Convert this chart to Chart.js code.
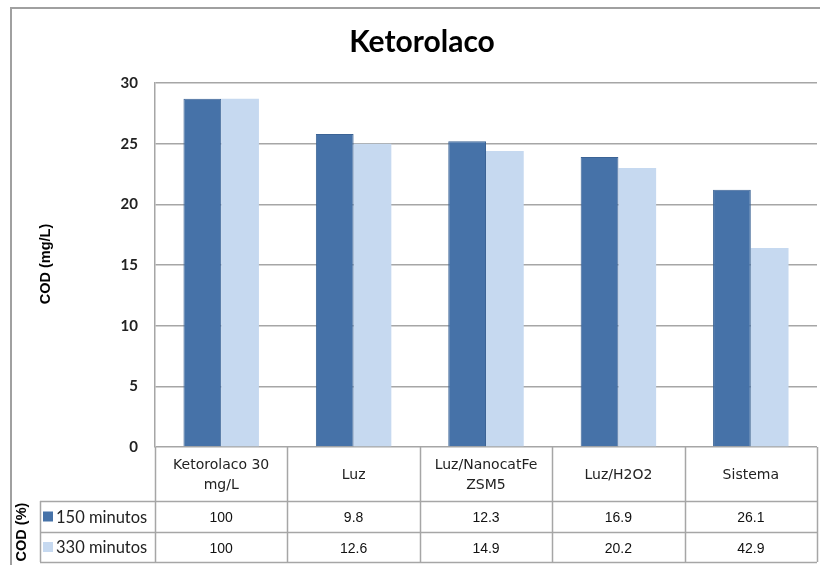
<!DOCTYPE html>
<html>
<head>
<meta charset="utf-8">
<script src="https://cdn.jsdelivr.net/npm/chart.js@4.4.1/dist/chart.umd.min.js"></script>
<style>
  html, body { margin: 0; padding: 0; background: #fff; }
  #wrap { width: 820px; height: 565px; position: relative; }
</style>
</head>
<body>
<div id="wrap"><canvas id="cod-chart"></canvas></div>
<script>
// categories and series (COD in mg/L)
const categories = [['Ketorolaco 30', 'mg/L'], ['Luz'], ['Luz/NanocatFe', 'ZSM5'], ['Luz/H2O2'], ['Sistema']];
const series150 = [28.7, 25.8, 25.2, 23.9, 21.2];
const series330 = [28.7, 25.0, 24.4, 23.0, 16.4];
// COD removal (%) shown in the data table
const removal150 = ['100', '9.8', '12.3', '16.9', '26.1'];
const removal330 = ['100', '12.6', '14.9', '20.2', '42.9'];
const seriesNames = ['150 minutos', '330 minutos'];
const yTicks = [0, 5, 10, 15, 20, 25, 30];

const dark = '#4672a8';
const light = '#c6d9f0';
const lineGray = '#a6a6a6';

// draws the frame, title, axis titles and the data table under the bars
const tablePlugin = {
  id: 'dataTable',
  afterDraw(chart) {
    const ctx = chart.ctx;
    const area = chart.chartArea;
    const x = chart.scales.x;
    const n = categories.length;
    const catW = (area.right - area.left) / n;
    const headTop = area.bottom;
    const row1 = 501, row2 = 532, tableBottom = 562;
    const legendLeft = 40;

    ctx.save();
    // outer frame
    ctx.strokeStyle = '#a0a0a0';
    ctx.lineWidth = 2;
    ctx.beginPath();
    ctx.moveTo(11, 565);
    ctx.lineTo(11, 8);
    ctx.lineTo(820, 8);
    ctx.stroke();

    // title
    ctx.fillStyle = '#000';
    ctx.font = 'bold 30px Lato';
    ctx.textAlign = 'center';
    ctx.textBaseline = 'middle';
    ctx.fillText('Ketorolaco', 422, 42);

    // table grid
    ctx.strokeStyle = lineGray;
    ctx.lineWidth = 1.5;
    ctx.beginPath();
    for (let i = 0; i <= n; i++) {
      const lx = Math.round(area.left + i * catW) + 0.5;
      ctx.moveTo(lx, headTop);
      ctx.lineTo(lx, tableBottom);
    }
    [row1, row2, tableBottom].forEach(yy => {
      ctx.moveTo(legendLeft, yy + 0.5);
      ctx.lineTo(area.right, yy + 0.5);
    });
    ctx.moveTo(legendLeft + 0.5, row1);
    ctx.lineTo(legendLeft + 0.5, tableBottom);
    ctx.stroke();

    // category headers
    ctx.fillStyle = '#222';
    ctx.font = '14px "DejaVu Sans"';
    categories.forEach((lines, i) => {
      const cx = x.getPixelForValue(i);
      const cy = (headTop + row1) / 2 + 1;
      const lh = 20;
      lines.forEach((t, k) => {
        ctx.fillText(t, cx, cy + (k - (lines.length - 1) / 2) * lh);
      });
    });

    // table values
    ctx.font = '14px "Liberation Sans"';
    ctx.fillStyle = '#111';
    removal150.forEach((v, i) => ctx.fillText(v, x.getPixelForValue(i), (row1 + row2) / 2 + 2));
    removal330.forEach((v, i) => ctx.fillText(v, x.getPixelForValue(i), (row2 + tableBottom) / 2 + 2));

    // legend keys
    ctx.textAlign = 'left';
    ctx.font = '16.5px Lato';
    [[row1, row2, dark], [row2, tableBottom, light]].forEach(([a, b, col], k) => {
      const cy = (a + b) / 2;
      ctx.fillStyle = col;
      ctx.fillRect(43, cy - 5, 10, 10);
      ctx.fillStyle = '#222';
      ctx.fillText(seriesNames[k], 56, cy + 1);
    });

    // axis titles
    ctx.font = 'bold 14.5px "Liberation Sans"';
    ctx.fillStyle = '#000';
    ctx.textAlign = 'center';
    ctx.translate(46, 264);
    ctx.rotate(-Math.PI / 2);
    ctx.fillText('COD (mg/L)', 0, 0);
    ctx.rotate(Math.PI / 2);
    ctx.translate(-46, -264);
    ctx.translate(22, 532);
    ctx.rotate(-Math.PI / 2);
    ctx.fillText('COD (%)', 0, 0);
    ctx.restore();
  }
};

new Chart(document.getElementById('cod-chart').getContext('2d'), {
  type: 'bar',
  data: {
    labels: categories,
    datasets: [
      {
        label: seriesNames[0],
        data: series150,
        backgroundColor: dark,
        borderColor: '#3b6395',
        borderWidth: 1,
        categoryPercentage: 0.57,
        barPercentage: 1.0
      },
      {
        label: seriesNames[1],
        data: series330,
        backgroundColor: light,
        borderColor: light,
        borderWidth: 0,
        categoryPercentage: 0.57,
        barPercentage: 1.0
      }
    ]
  },
  options: {
    responsive: true,
    maintainAspectRatio: false,
    animation: false,
    layout: { padding: { top: 83, right: 3, bottom: 118, left: 0 } },
    plugins: {
      legend: { display: false },
      title: { display: false },
      tooltip: { enabled: false }
    },
    scales: {
      x: {
        ticks: { display: false },
        grid: { display: false },
        border: { display: false },
        afterFit: s => { s.height = 0; }
      },
      y: {
        min: 0,
        max: 30,
        afterBuildTicks: s => { s.ticks = yTicks.map(v => ({ value: v })); },
        afterFit: s => { s.width = 155; },
        grid: { color: lineGray, lineWidth: 1.5, drawTicks: false },
        border: { color: lineGray, width: 1.5 },
        ticks: {
          padding: 17,
          color: '#222',
          font: { family: 'Lato', size: 15, weight: 'bold' }
        }
      }
    }
  },
  plugins: [tablePlugin]
});
</script>
</body>
</html>
